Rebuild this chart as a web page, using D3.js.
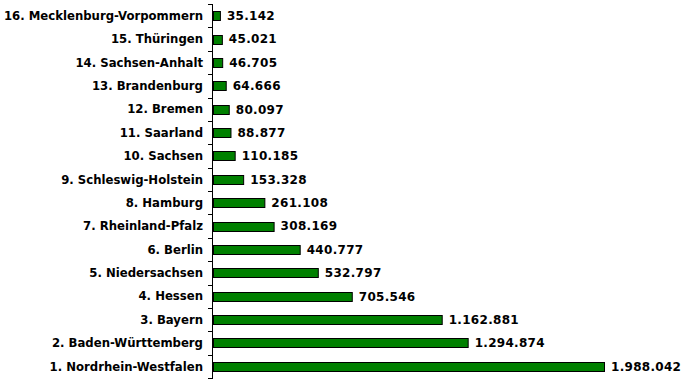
<!DOCTYPE html>
<html><head><meta charset="utf-8">
<script src="https://cdn.jsdelivr.net/npm/d3@7"></script>
<style>body{margin:0;background:#fff}svg{display:block}text{font-family:"DejaVu Sans",Verdana,sans-serif;font-weight:bold;fill:#000}
text.c{font-size:11.7px}text.v{font-size:12px;letter-spacing:0.3px}</style>
</head><body><svg id="c" width="682" height="384"></svg>
<script>
const categories = ["1. Nordrhein-Westfalen","2. Baden-Württemberg","3. Bayern","4. Hessen","5. Niedersachsen","6. Berlin","7. Rheinland-Pfalz","8. Hamburg","9. Schleswig-Holstein","10. Sachsen","11. Saarland","12. Bremen","13. Brandenburg","14. Sachsen-Anhalt","15. Thüringen","16. Mecklenburg-Vorpommern"];
const values = [1988042,1294874,1162881,705546,532797,440777,308169,261108,153328,110185,88877,80097,64666,46705,45021,35142];
const valueLabels = ["1.988.042","1.294.874","1.162.881","705.546","532.797","440.777","308.169","261.108","153.328","110.185","88.877","80.097","64.666","46.705","45.021","35.142"];

const svg = d3.select("#c");
const x0 = 213, x1 = 604, yTop = 4, yBot = 378;
const order = categories.slice().reverse();
const y = d3.scaleBand().domain(order).range([yTop, yBot]);
const x = d3.scaleLinear().domain([0, d3.max(values)]).range([x0, x1]);
const data = categories.map((c,i)=>({c, v:values[i], l:valueLabels[i]}));

svg.append("line").attr("x1",x0-0.5).attr("x2",x0-0.5).attr("y1",yTop).attr("y2",yBot+0.5).attr("stroke","#000");
const bounds = order.map(c=>y(c)).concat([yBot]);
svg.selectAll("line.t").data(bounds).join("line").attr("class","t")
  .attr("x1",x0-5).attr("x2",x0).attr("y1",d=>Math.round(d)+0.5).attr("y2",d=>Math.round(d)+0.5).attr("stroke","#000");

const bh = 9;
svg.selectAll("rect.b").data(data).join("rect").attr("class","b")
  .attr("x",x0+0.5).attr("y",d=>Math.round(y(d.c)+y.bandwidth()/2-bh/2)+0.5)
  .attr("width",d=>x(d.v)-x0).attr("height",bh)
  .attr("fill","#008000").attr("stroke","#000");

svg.selectAll("text.c").data(data).join("text").attr("class","c")
  .attr("x",x0-10).attr("y",d=>y(d.c)+y.bandwidth()/2).attr("dy","0.36em")
  .attr("text-anchor","end").text(d=>d.c);
svg.selectAll("text.v").data(data).join("text").attr("class","v")
  .attr("x",d=>x(d.v)+7).attr("y",d=>y(d.c)+y.bandwidth()/2).attr("dy","0.36em")
  .text(d=>d.l);
</script></body></html>
